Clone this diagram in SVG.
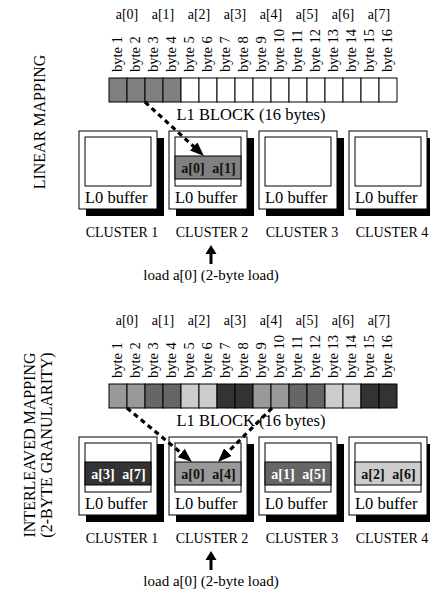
<svg xmlns="http://www.w3.org/2000/svg" width="430" height="594" viewBox="0 0 430 594">
<defs>
<style>
text{font-family:"Liberation Serif","Times New Roman",serif}
.al{font-size:14px;text-anchor:middle}
.by{font-size:14.5px}
.big{font-size:16.5px}
.cl{font-size:14px;text-anchor:middle}
.ld{font-size:15px;text-anchor:middle}
.side{font-size:16px;text-anchor:middle}
.bold{font-size:14px;font-weight:bold;text-anchor:middle}
.cell{stroke:#000;stroke-width:1}
.outer{fill:#fff;stroke:#000;stroke-width:1}
.shadow{fill:#000}
.inner{fill:#fff;stroke:#000;stroke-width:1}
.band{stroke:#000;stroke-width:1}
.dash{stroke:#000;stroke-width:3.2;stroke-dasharray:5 4;fill:none}
</style>
<marker id="ah" markerUnits="userSpaceOnUse" markerWidth="14" markerHeight="11" refX="4" refY="5.5" orient="auto">
<path d="M0,0 L14,5.5 L0,11 z" fill="#000"/>
</marker>
<g id="bytelabels">
<text class="by" transform="translate(121.5,72) rotate(-90)">byte 1</text>
<text class="by" transform="translate(139.5,72) rotate(-90)">byte 2</text>
<text class="by" transform="translate(157.5,72) rotate(-90)">byte 3</text>
<text class="by" transform="translate(175.5,72) rotate(-90)">byte 4</text>
<text class="by" transform="translate(193.5,72) rotate(-90)">byte 5</text>
<text class="by" transform="translate(211.5,72) rotate(-90)">byte 6</text>
<text class="by" transform="translate(229.5,72) rotate(-90)">byte 7</text>
<text class="by" transform="translate(247.5,72) rotate(-90)">byte 8</text>
<text class="by" transform="translate(265.5,72) rotate(-90)">byte 9</text>
<text class="by" transform="translate(283.5,72) rotate(-90)">byte 10</text>
<text class="by" transform="translate(301.5,72) rotate(-90)">byte 11</text>
<text class="by" transform="translate(319.5,72) rotate(-90)">byte 12</text>
<text class="by" transform="translate(337.5,72) rotate(-90)">byte 13</text>
<text class="by" transform="translate(355.5,72) rotate(-90)">byte 14</text>
<text class="by" transform="translate(373.5,72) rotate(-90)">byte 15</text>
<text class="by" transform="translate(391.5,72) rotate(-90)">byte 16</text>
</g>
<g id="alabels">
<text class="al" x="127" y="19">a[0]</text>
<text class="al" x="163" y="19">a[1]</text>
<text class="al" x="199" y="19">a[2]</text>
<text class="al" x="235" y="19">a[3]</text>
<text class="al" x="271" y="19">a[4]</text>
<text class="al" x="307" y="19">a[5]</text>
<text class="al" x="343" y="19">a[6]</text>
<text class="al" x="379" y="19">a[7]</text>
</g>
</defs>

<!-- ===== LINEAR MAPPING ===== -->
<text id="label-linear" class="side" transform="translate(45,122) rotate(-90)">LINEAR MAPPING</text>

<g id="l1-linear">
<use href="#alabels"/>
<use href="#bytelabels"/>
<rect class="cell" x="109" y="78" width="18" height="24" fill="#808080"/>
<rect class="cell" x="127" y="78" width="18" height="24" fill="#808080"/>
<rect class="cell" x="145" y="78" width="18" height="24" fill="#808080"/>
<rect class="cell" x="163" y="78" width="18" height="24" fill="#808080"/>
<rect class="cell" x="181" y="78" width="18" height="24" fill="#fff"/>
<rect class="cell" x="199" y="78" width="18" height="24" fill="#fff"/>
<rect class="cell" x="217" y="78" width="18" height="24" fill="#fff"/>
<rect class="cell" x="235" y="78" width="18" height="24" fill="#fff"/>
<rect class="cell" x="253" y="78" width="18" height="24" fill="#fff"/>
<rect class="cell" x="271" y="78" width="18" height="24" fill="#fff"/>
<rect class="cell" x="289" y="78" width="18" height="24" fill="#fff"/>
<rect class="cell" x="307" y="78" width="18" height="24" fill="#fff"/>
<rect class="cell" x="325" y="78" width="18" height="24" fill="#fff"/>
<rect class="cell" x="343" y="78" width="18" height="24" fill="#fff"/>
<rect class="cell" x="361" y="78" width="18" height="24" fill="#fff"/>
<rect class="cell" x="379" y="78" width="18" height="24" fill="#fff"/>
<text class="big" x="251" y="120" text-anchor="middle">L1 BLOCK (16 bytes)</text>
</g>

<g id="lin-cluster1">
<rect class="shadow" x="86" y="138" width="78" height="78"/>
<rect class="outer" x="79" y="131" width="78" height="78"/>
<rect class="inner" x="85" y="137" width="66" height="49"/>
<text class="big" x="85" y="203">L0 buffer</text>
<text class="cl" x="122" y="237">CLUSTER 1</text>
</g>
<g id="lin-cluster2">
<rect class="shadow" x="176" y="138" width="78" height="78"/>
<rect class="outer" x="169" y="131" width="78" height="78"/>
<rect class="inner" x="175" y="137" width="66" height="49"/>
<rect class="band" x="175" y="156" width="66" height="23" fill="#808080"/>
<text class="bold" x="193" y="173" fill="#111">a[0]</text>
<text class="bold" x="224" y="173" fill="#111">a[1]</text>
<text class="big" x="175" y="203">L0 buffer</text>
<text class="cl" x="212" y="237">CLUSTER 2</text>
</g>
<g id="lin-cluster3">
<rect class="shadow" x="266" y="138" width="78" height="78"/>
<rect class="outer" x="259" y="131" width="78" height="78"/>
<rect class="inner" x="265" y="137" width="66" height="49"/>
<text class="big" x="265" y="203">L0 buffer</text>
<text class="cl" x="302" y="237">CLUSTER 3</text>
</g>
<g id="lin-cluster4">
<rect class="shadow" x="356" y="138" width="78" height="78"/>
<rect class="outer" x="349" y="131" width="78" height="78"/>
<rect class="inner" x="355" y="137" width="66" height="49"/>
<text class="big" x="355" y="203">L0 buffer</text>
<text class="cl" x="392" y="237">CLUSTER 4</text>
</g>
<g id="lin-load">
<text class="ld" x="211" y="280">load a[0] (2-byte load)</text>
</g>

<!-- ===== INTERLEAVED MAPPING ===== -->
<g id="label-interleaved">
<text class="side" transform="translate(35,445) rotate(-90)">INTERLEAVED MAPPING</text>
<text class="side" transform="translate(52,445) rotate(-90)">(2-BYTE GRANULARITY)</text>
</g>

<g id="l1-interleaved" transform="translate(0,306)">
<use href="#alabels"/>
<use href="#bytelabels"/>
<rect class="cell" x="109" y="78" width="18" height="24" fill="#999"/>
<rect class="cell" x="127" y="78" width="18" height="24" fill="#999"/>
<rect class="cell" x="145" y="78" width="18" height="24" fill="#666"/>
<rect class="cell" x="163" y="78" width="18" height="24" fill="#666"/>
<rect class="cell" x="181" y="78" width="18" height="24" fill="#ccc"/>
<rect class="cell" x="199" y="78" width="18" height="24" fill="#ccc"/>
<rect class="cell" x="217" y="78" width="18" height="24" fill="#333"/>
<rect class="cell" x="235" y="78" width="18" height="24" fill="#333"/>
<rect class="cell" x="253" y="78" width="18" height="24" fill="#999"/>
<rect class="cell" x="271" y="78" width="18" height="24" fill="#999"/>
<rect class="cell" x="289" y="78" width="18" height="24" fill="#666"/>
<rect class="cell" x="307" y="78" width="18" height="24" fill="#666"/>
<rect class="cell" x="325" y="78" width="18" height="24" fill="#ccc"/>
<rect class="cell" x="343" y="78" width="18" height="24" fill="#ccc"/>
<rect class="cell" x="361" y="78" width="18" height="24" fill="#333"/>
<rect class="cell" x="379" y="78" width="18" height="24" fill="#333"/>
<text class="big" x="251" y="120" text-anchor="middle">L1 BLOCK (16 bytes)</text>
</g>

<g id="int-cluster1" transform="translate(0,306)">
<rect class="shadow" x="86" y="138" width="78" height="78"/>
<rect class="outer" x="79" y="131" width="78" height="78"/>
<rect class="inner" x="85" y="137" width="66" height="49"/>
<rect class="band" x="85" y="156" width="66" height="23" fill="#333"/>
<text class="bold" x="103" y="173" fill="#fff">a[3]</text>
<text class="bold" x="134" y="173" fill="#fff">a[7]</text>
<text class="big" x="85" y="203">L0 buffer</text>
<text class="cl" x="122" y="237">CLUSTER 1</text>
</g>
<g id="int-cluster2" transform="translate(0,306)">
<rect class="shadow" x="176" y="138" width="78" height="78"/>
<rect class="outer" x="169" y="131" width="78" height="78"/>
<rect class="inner" x="175" y="137" width="66" height="49"/>
<rect class="band" x="175" y="156" width="66" height="23" fill="#999"/>
<text class="bold" x="193" y="173" fill="#111">a[0]</text>
<text class="bold" x="224" y="173" fill="#111">a[4]</text>
<text class="big" x="175" y="203">L0 buffer</text>
<text class="cl" x="212" y="237">CLUSTER 2</text>
</g>
<g id="int-cluster3" transform="translate(0,306)">
<rect class="shadow" x="266" y="138" width="78" height="78"/>
<rect class="outer" x="259" y="131" width="78" height="78"/>
<rect class="inner" x="265" y="137" width="66" height="49"/>
<rect class="band" x="265" y="156" width="66" height="23" fill="#666"/>
<text class="bold" x="283" y="173" fill="#fff">a[1]</text>
<text class="bold" x="314" y="173" fill="#fff">a[5]</text>
<text class="big" x="265" y="203">L0 buffer</text>
<text class="cl" x="302" y="237">CLUSTER 3</text>
</g>
<g id="int-cluster4" transform="translate(0,306)">
<rect class="shadow" x="356" y="138" width="78" height="78"/>
<rect class="outer" x="349" y="131" width="78" height="78"/>
<rect class="inner" x="355" y="137" width="66" height="49"/>
<rect class="band" x="355" y="156" width="66" height="23" fill="#ccc"/>
<text class="bold" x="373" y="173" fill="#111">a[2]</text>
<text class="bold" x="404" y="173" fill="#111">a[6]</text>
<text class="big" x="355" y="203">L0 buffer</text>
<text class="cl" x="392" y="237">CLUSTER 4</text>
</g>
<g id="int-load">
<text class="ld" x="211" y="586">load a[0] (2-byte load)</text>
</g>

<!-- ===== connectors ===== -->
<g id="connectors">
<line class="dash" x1="145" y1="102" x2="196.6" y2="149.2" marker-end="url(#ah)"/>
<path d="M211,264 V253" stroke="#000" stroke-width="3" fill="none"/>
<path d="M205.5,254 L216.5,254 L211,245 z" fill="#000"/>
<line class="dash" x1="127" y1="408" x2="184.3" y2="455.6" marker-end="url(#ah)"/>
<line class="dash" x1="272" y1="408" x2="225.1" y2="454.9" marker-end="url(#ah)"/>
<path d="M211,570 V559" stroke="#000" stroke-width="3" fill="none"/>
<path d="M205.5,560 L216.5,560 L211,551 z" fill="#000"/>
</g>
</svg>
